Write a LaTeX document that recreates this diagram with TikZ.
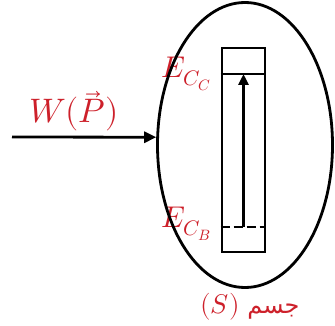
\documentclass[tikz,border=0pt]{standalone}
\usepackage{fontspec}
\usepackage{unicode-math}
\usetikzlibrary{arrows.meta,shapes.geometric}
\newfontfamily\arabicfont[Script=Arabic]{DejaVu Sans}
\TeXXeTstate=1
\definecolor{labred}{RGB}{205,32,42}
\tikzset{
  bold line/.style={line width=2.8pt},
  lbl/.style={text=labred, inner sep=0pt},
}
\begin{document}
\begin{tikzpicture}[x=1pt,y=-1pt]
  \useasboundingbox (0,0) rectangle (335,326);
  \node[lbl, anchor=base west, font=\fontsize{30}{34}\selectfont] (ecc) at (161,78) {$E_{C_C}$};
  \node[lbl, anchor=base west, font=\fontsize{30}{34}\selectfont] (ecb) at (161,228) {$E_{C_B}$};
  \node[lbl, anchor=base, font=\fontsize{34}{38}\selectfont] (wp) at (74,123) {$W(\vec{P})$};
  \node[lbl, anchor=base, font=\fontsize{24}{28}\selectfont] (name) at (250,313) {\arabicfont\beginR جسم \beginL{\fontsize{27}{30}\selectfont$(S)$}\endL\endR};
  \node[draw, ellipse, bold line, minimum width=175pt, minimum height=285pt, inner sep=0pt] (S) at (245,145) {};
  \node[draw, bold line, minimum width=43pt, minimum height=204pt, inner sep=0pt] (tube) at (243.5,150) {};
  \coordinate (cT) at (243.5,74);
  \coordinate (cB) at (243.5,227);
  \coordinate (win) at (12,137);
  \draw[bold line] (tube.west |- cT) -- (tube.east |- cT);
  \draw[bold line, dash pattern=on 9pt off 4pt] (tube.west |- cB) -- (tube.east |- cB);
  \draw[bold line, -{Triangle[length=11pt,width=10pt]}] (cB) -- (cT);
  \draw[bold line, -{Triangle[length=12pt,width=11pt]}] (win) -- (S.175);
\end{tikzpicture}
\end{document}
